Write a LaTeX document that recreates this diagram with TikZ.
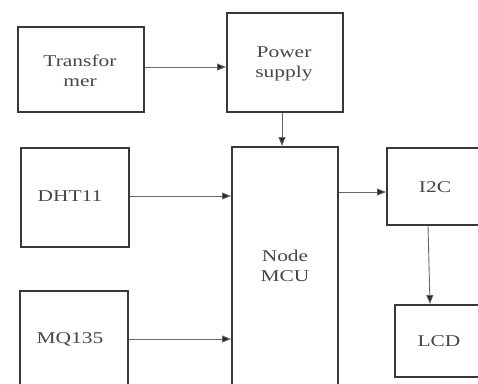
\documentclass[tikz,border=0pt]{standalone}
\usepackage{fontspec}
\setmainfont{Liberation Serif}
\usetikzlibrary{arrows.meta}
\tikzset{
  blk/.style={draw=black!78, line width=2pt, fill=white, inner sep=0pt},
  lbl/.style={text=black!72, font=\fontsize{16.5}{20}\selectfont, inner sep=0pt},
  arr/.style={draw=black!60, line width=0.9pt, -{Triangle[length=9pt,width=7pt,fill=black!85]}},
}
\newcommand{\wlab}[1]{\scalebox{1.3}[1]{\begin{tabular}{@{}c@{}}#1\end{tabular}}}
\begin{document}
\begin{tikzpicture}[x=1pt,y=-1pt]
\useasboundingbox (0,0) rectangle (478,383);
\clip (0,0) rectangle (478,383);
\fill[white] (0,0) rectangle (478,383);
% boxes
\node[blk, minimum width=126pt, minimum height=85pt] (tr) at (81,69.5) {};
\node[blk, minimum width=116pt, minimum height=99pt] (ps) at (285,62.5) {};
\node[blk, minimum width=106pt, minimum height=239pt] (mcu) at (285,266.5) {};
\node[blk, minimum width=108pt, minimum height=99pt] (dht) at (75,197.5) {};
\node[blk, minimum width=108pt, minimum height=96pt] (mq) at (74,339) {};
\node[blk, minimum width=96pt, minimum height=77pt] (i2c) at (435,186.5) {};
\node[blk, minimum width=88pt, minimum height=72pt] (lcd) at (439,341) {};
% labels
\node[lbl] (trl) at (80,72) {\wlab{Transfor\\mer}};
\node[lbl] (psl) at (284,63) {\wlab{Power\\supply}};
\node[lbl] (mcul) at (285,267) {\wlab{Node\\MCU}};
\node[lbl] (dhtl) at (70,197) {\wlab{DHT11}};
\node[lbl] (mql) at (70,339) {\wlab{MQ135}};
\node[lbl] (i2cl) at (435,188) {\wlab{I2C}};
\node[lbl] (lcdl) at (439,342) {\wlab{LCD}};
% connectors
\draw[arr] ([yshift=2.5pt]tr.east) -- ([yshift=2.5pt]tr.east -| ps.west);
\draw[arr] ([xshift=-3pt]ps.south) -- ([xshift=-3pt]ps.south |- mcu.north);
\draw[arr] ([yshift=1.5pt]dht.east) -- ([yshift=1.5pt]dht.east -| mcu.west);
\draw[arr] (mq.east) -- (mq.east -| mcu.west);
\draw[arr] ([yshift=-5.5pt]i2c.west -| mcu.east) -- ([yshift=-5.5pt]i2c.west);
\draw[arr] ([xshift=-7pt]i2c.south) -- ([xshift=-9pt]lcd.north);
\end{tikzpicture}
\end{document}
